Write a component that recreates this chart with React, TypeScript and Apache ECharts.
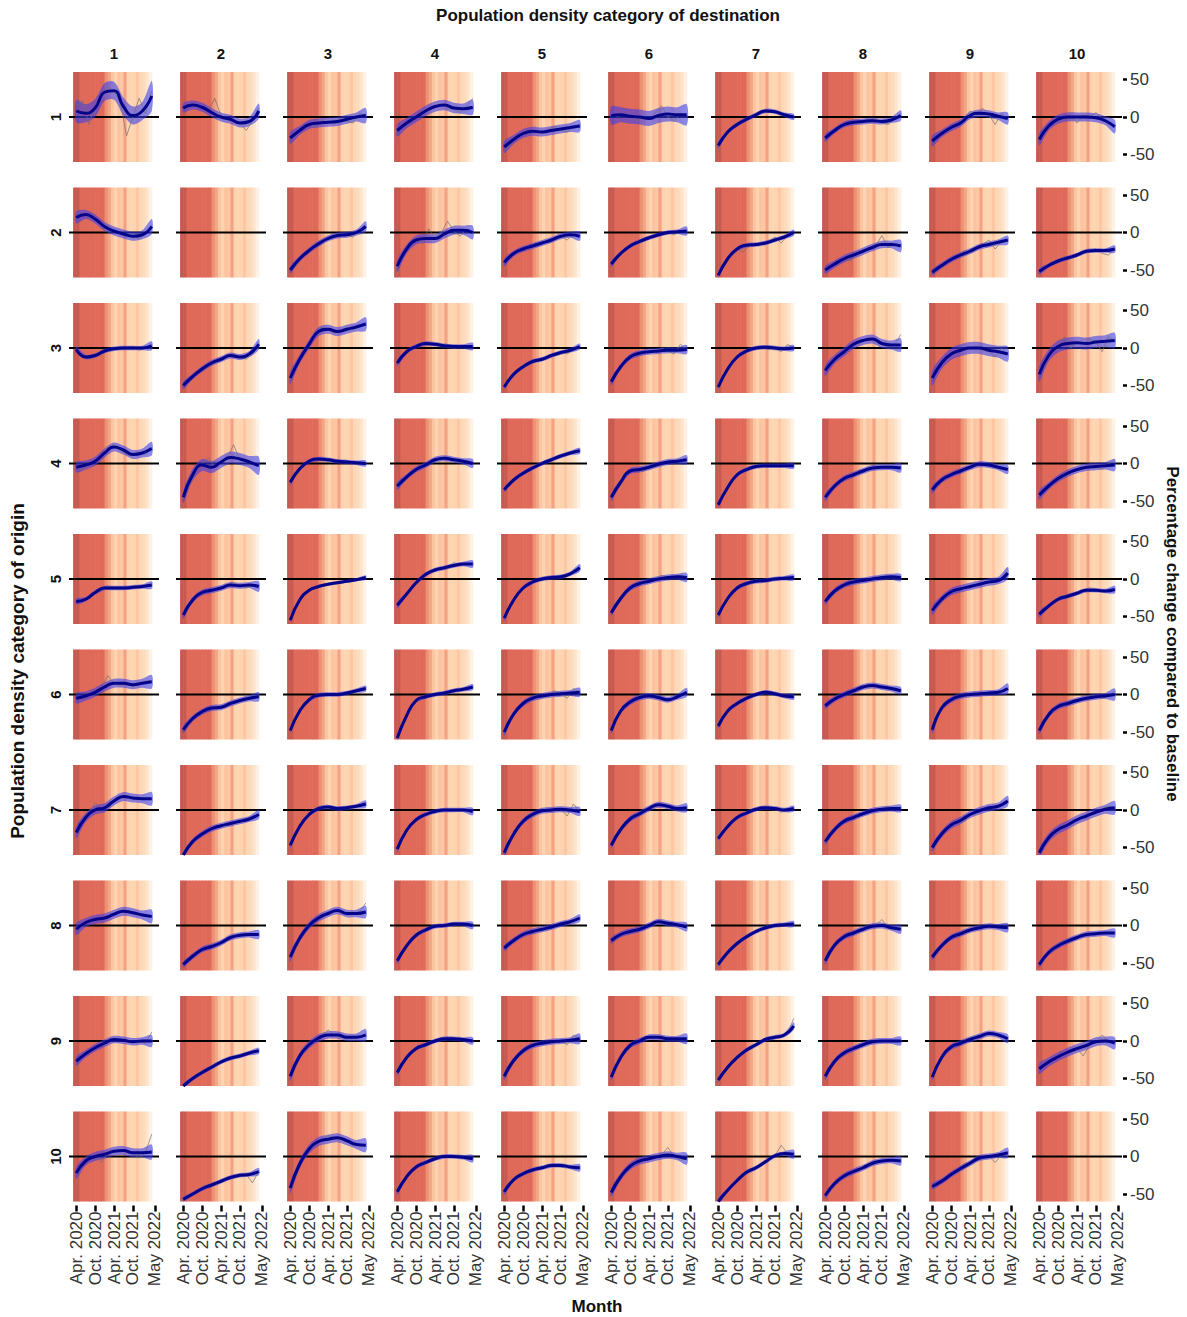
import { useEffect, useRef } from "react";
import * as echarts from "echarts";

const ROW_LABELS = ["1", "2", "3", "4", "5", "6", "7", "8", "9", "10"];
const COL_LABELS = ["1", "2", "3", "4", "5", "6", "7", "8", "9", "10"];
const X_TICK_VALUES = [1, 7, 13, 19, 26];
const X_TICK_LABELS = ["Apr. 2020", "Oct. 2020", "Apr. 2021", "Oct. 2021", "May 2022"];
const Y_TICK_VALUES = [-50, 0, 50];
const SMOOTH_MONTHS = [1, 4, 7, 10, 13, 16, 19, 22, 25];
const RAW_MONTHS = [1, 3, 5, 7, 9, 11, 13, 15, 17, 19, 21, 23, 25];
// one colour per month, Mar 2020 .. Mar 2022
const STRIPE_COLORS = [
  "#c75a50", "#c75a50",
  "#e06a5a", "#e06a5a", "#e06a5a", "#e06a5a", "#e06a5a", "#e06a5a", "#e06a5a", "#e06a5a",
  "#ec9171", "#f2a587", "#fcc5a0", "#fdd4b3", "#fcc49e", "#fcc7a2", "#f4a283",
  "#fdd3b0", "#fdd6b4", "#fdd3b0", "#fcc7a2", "#fdd8b8", "#fddbbd", "#fee4cb", "#fff1e4",
];

const SMOOTH_R1 = [
  [8, 5, 12, 33, 35, 14, 2, 8, 28], [12, 16, 13, 6, 0, -3, -8, -6, 8], [-28, -18, -10, -8, -7, -6, -3, 0, 2],
  [-18, -8, 0, 8, 14, 16, 12, 11, 13], [-40, -30, -22, -19, -20, -18, -16, -14, -12], [2, 3, 1, 0, -2, 2, 4, 3, 3],
  [-38, -20, -10, -3, 3, 8, 7, 3, 0], [-28, -18, -10, -7, -6, -5, -6, -4, 2], [-32, -22, -14, -8, 2, 5, 4, 1, -2],
  [-30, -12, -3, 0, 0, 0, -1, -5, -13],
];
const SMOOTH_R2 = [
  [20, 24, 18, 8, 2, -2, -5, -3, 8], null, [-50, -35, -24, -15, -8, -4, -3, 0, 8],
  [-45, -22, -10, -8, -8, -2, 3, 3, 0], [-40, -28, -22, -18, -14, -10, -5, -3, -5], [-42, -28, -18, -12, -7, -3, 0, 1, 2],
  [-57, -35, -22, -17, -16, -14, -10, -6, 0], [-50, -42, -35, -30, -25, -20, -16, -16, -18], [-53, -44, -36, -30, -25, -19, -16, -13, -10],
  [-52, -44, -38, -34, -30, -25, -24, -24, -22],
];
const SMOOTH_R3 = [
  [-2, -12, -10, -4, -1, 0, 0, 0, 3], [-50, -38, -28, -20, -15, -10, -12, -8, 5], [-40, -15, 5, 22, 25, 22, 25, 28, 32],
  [-20, -5, 2, 6, 5, 3, 2, 2, 2], [-52, -35, -25, -18, -15, -10, -6, -3, 2], [-45, -25, -12, -7, -5, -4, -3, -3, -2],
  [-52, -28, -12, -4, 0, 1, 0, -1, 0], [-30, -15, -5, 5, 10, 12, 6, 4, 4], [-40, -20, -8, -3, 0, 0, -3, -5, -8],
  [-35, -10, 2, 6, 7, 6, 8, 9, 10],
];
const SMOOTH_R4 = [
  [-5, -2, 3, 14, 22, 18, 12, 14, 20], [-45, -15, -2, -5, 2, 8, 6, 2, -3], [-25, -7, 3, 6, 5, 3, 2, 1, 0],
  [-30, -18, -8, -2, 5, 7, 5, 3, 0], [-35, -22, -13, -6, 0, 5, 10, 14, 17], [-45, -25, -10, -8, -5, -1, 2, 3, 5],
  [-55, -32, -15, -8, -4, -3, -3, -3, -3], [-45, -30, -20, -15, -10, -6, -5, -5, -6], [-35, -22, -15, -10, -5, -1, -2, -5, -8],
  [-42, -30, -20, -13, -8, -5, -4, -3, -2],
];
const SMOOTH_R5 = [
  [-30, -27, -18, -12, -12, -12, -11, -10, -8], [-48, -28, -18, -15, -12, -8, -9, -8, -10], [-55, -28, -15, -10, -7, -5, -3, -1, 2],
  [-35, -20, -5, 6, 12, 15, 18, 20, 20], [-52, -28, -12, -4, 0, 2, 3, 7, 15], [-45, -26, -12, -6, -3, 0, 2, 3, 2],
  [-48, -26, -12, -6, -3, -2, 0, 1, 2], [-30, -16, -8, -4, -2, 0, 2, 3, 2], [-42, -27, -17, -13, -10, -7, -4, -2, 8],
  [-47, -36, -27, -23, -19, -15, -15, -16, -14],
];
const SMOOTH_R6 = [
  [-5, -2, 3, 10, 15, 15, 13, 15, 17], [-47, -32, -23, -18, -17, -12, -8, -5, -3], [-48, -22, -7, -1, 0, 0, 2, 5, 8],
  [-58, -28, -8, -3, 0, 2, 5, 7, 10], [-50, -26, -12, -5, -2, 0, 1, 2, 3], [-48, -22, -10, -4, -2, -4, -7, -3, 3],
  [-42, -22, -12, -5, 0, 3, 1, -2, -3], [-15, -6, 0, 5, 10, 12, 10, 8, 5], [-47, -18, -7, -2, 0, 1, 2, 3, 8],
  [-48, -27, -16, -12, -8, -5, -3, -2, 0],
];
const SMOOTH_R7 = [
  [-30, -10, 0, 3, 12, 18, 16, 15, 15], [-60, -42, -32, -25, -21, -18, -15, -12, -6], [-47, -22, -6, 2, 4, 2, 3, 5, 8],
  [-52, -27, -13, -6, -2, 0, 0, 0, -2], [-57, -32, -15, -6, -1, 0, 1, 0, -2], [-47, -26, -12, -5, 2, 7, 5, 2, 3],
  [-38, -22, -10, -4, 1, 3, 2, 0, 2], [-42, -26, -15, -10, -5, -1, 1, 2, 2], [-50, -32, -20, -14, -6, -1, 3, 5, 12],
  [-57, -37, -26, -20, -13, -8, -3, 1, 3],
];
const SMOOTH_R8 = [
  [-5, 4, 8, 10, 15, 19, 17, 14, 12], [-52, -41, -32, -28, -23, -16, -13, -12, -12], [-42, -17, 0, 10, 16, 20, 16, 16, 18],
  [-47, -27, -13, -6, -1, 0, 2, 2, 0], [-30, -20, -12, -8, -5, -2, 2, 5, 10], [-20, -12, -8, -5, 0, 5, 3, 1, -2],
  [-52, -36, -24, -15, -8, -3, 0, 1, 2], [-47, -26, -15, -10, -5, -1, 0, -3, -5], [-42, -27, -16, -11, -6, -3, -1, -2, -3],
  [-52, -36, -27, -21, -16, -12, -11, -10, -10],
];
const SMOOTH_R9 = [
  [-27, -17, -9, -3, 2, 1, -1, 0, 0], [-60, -50, -42, -35, -28, -23, -20, -16, -13], [-47, -20, -5, 4, 8, 8, 5, 5, 8],
  [-42, -22, -10, -5, 0, 3, 3, 2, 0], [-47, -26, -13, -6, -3, -1, 0, 1, 3], [-48, -22, -6, 0, 5, 5, 3, 3, 3],
  [-52, -35, -22, -12, -5, 2, 5, 8, 20], [-47, -27, -16, -10, -5, -1, 0, 0, 0], [-48, -22, -8, -3, 2, 6, 10, 8, 3],
  [-37, -28, -21, -15, -10, -6, -1, 0, -3],
];
const SMOOTH_R10 = [
  [-22, -6, 0, 3, 7, 8, 5, 5, 6], [-57, -50, -43, -38, -33, -28, -25, -24, -20], [-42, -10, 10, 20, 23, 25, 21, 16, 15],
  [-47, -27, -14, -8, -3, 0, 0, -1, -3], [-47, -31, -23, -18, -15, -12, -12, -14, -15], [-48, -27, -13, -6, -3, 0, 2, 0, -3],
  [-60, -45, -32, -21, -15, -7, 1, 4, 3], [-52, -36, -26, -20, -15, -9, -6, -5, -6], [-40, -33, -24, -16, -9, -2, 0, 2, 5],
  null,
];

// confidence band half widths: [start, middle, end]
const BAND_R1 = [[15, 12, 20], [6, 6, 10], [8, 6, 10], [8, 7, 10], [8, 6, 8], [12, 10, 14], [4, 3, 4], [5, 4, 7], [7, 5, 8], [8, 6, 9]];
const BAND_R2 = [[8, 6, 10], null, [5, 4, 7], [8, 6, 9], [5, 4, 6], [4, 3, 6], [3, 3, 4], [5, 5, 8], [4, 4, 6], [4, 3, 5]];
const BAND_R3 = [[4, 3, 6], [5, 4, 7], [8, 6, 9], [4, 3, 5], [3, 3, 4], [5, 4, 6], [3, 3, 4], [7, 6, 9], [10, 8, 10], [10, 8, 10]];
const BAND_R4 = [[7, 6, 9], [8, 8, 12], [4, 3, 4], [5, 4, 6], [3, 3, 4], [5, 4, 6], [3, 3, 4], [5, 4, 6], [5, 4, 6], [6, 5, 8]];
const BAND_R5 = [[4, 3, 5], [5, 4, 7], [2, 2, 3], [4, 3, 5], [4, 3, 5], [4, 4, 6], [3, 3, 4], [4, 4, 5], [6, 5, 8], [4, 3, 5]];
const BAND_R6 = [[7, 6, 9], [5, 4, 6], [3, 3, 4], [3, 3, 4], [5, 4, 6], [4, 4, 6], [3, 3, 4], [4, 4, 5], [5, 4, 7], [5, 4, 8]];
const BAND_R7 = [[8, 6, 9], [4, 4, 6], [4, 3, 5], [4, 3, 5], [5, 4, 6], [4, 4, 6], [3, 3, 4], [4, 4, 5], [5, 5, 7], [6, 6, 9]];
const BAND_R8 = [[8, 6, 9], [4, 4, 6], [6, 5, 8], [4, 3, 5], [4, 4, 5], [4, 4, 6], [3, 3, 4], [5, 4, 6], [4, 4, 6], [4, 4, 6]];
const BAND_R9 = [[6, 5, 8], [3, 3, 4], [6, 5, 8], [4, 3, 5], [5, 4, 7], [5, 4, 7], [3, 3, 5], [5, 4, 6], [4, 4, 6], [7, 6, 8]];
const BAND_R10 = [[8, 6, 10], [3, 3, 5], [7, 6, 9], [4, 3, 5], [4, 3, 5], [6, 5, 8], [4, 3, 6], [4, 4, 6], [4, 4, 7], null];

const RAW_R1 = [
  [15, 22, -10, 15, 30, 40, 35, 20, -25, 0, 25, 5, 35], [12, 16, 17, 12, 8, 25, 2, -2, -4, -8, -18, -5, 12],
  [-30, -22, -15, -10, -14, -5, -7, -8, -2, -6, -8, 5, 2], [-18, -12, -5, 2, 8, 12, 14, 18, 12, 10, 6, 14, 25],
  [-45, -35, -25, -22, -20, -18, -22, -18, -12, -18, -20, -12, -10], [5, 0, 5, 2, -5, 0, -3, 5, 15, 0, -5, 5, 2],
  [-38, -25, -15, -10, -5, 0, 3, 6, 10, 6, 3, 2, 0], [-28, -22, -15, -10, -9, -6, -6, -4, -2, -8, -10, -2, 5],
  [-32, -26, -20, -14, -8, -5, 8, 3, 12, 3, -10, 5, -3], [-30, -18, -8, -2, -3, 2, -8, 3, 0, 6, -2, -10, -12],
];
const RAW_R2 = [
  [22, 25, 22, 18, 10, 8, 2, 0, -2, -5, -8, -2, 10], null,
  [-52, -42, -30, -24, -20, -12, -8, -6, -2, -4, -6, 2, 10], [-45, -30, -15, -8, -15, 5, -8, 0, 15, 2, -5, 5, 0],
  [-40, -32, -26, -22, -20, -16, -14, -12, -6, -5, -10, -2, -5], [-42, -32, -24, -18, -15, -10, -7, -5, -2, 0, -3, 2, 2],
  [-57, -42, -30, -22, -26, -16, -15, -14, -12, -6, -14, -4, 0], [-50, -45, -40, -35, -38, -28, -25, -22, -18, -4, -20, -15, -18],
  [-53, -48, -42, -36, -33, -26, -24, -20, -16, -10, -22, -12, -10], [-52, -47, -42, -36, -32, -34, -30, -25, -24, -22, -28, -30, -22],
];
const RAW_R3 = [
  [-2, -10, -14, -10, -8, -2, 0, -2, 0, 2, -3, 0, 5], [-50, -42, -34, -28, -24, -18, -15, -12, -8, -12, -15, -8, 8],
  [-42, -25, -8, 5, 18, 28, 25, 20, 22, 28, 25, 30, 33], [-20, -10, -3, 2, 5, 6, 5, 3, 2, 0, 2, 3, 2],
  [-52, -42, -32, -25, -22, -16, -15, -12, -10, -5, -8, -2, 2], [-45, -32, -20, -12, -10, -6, -5, -5, 0, -4, -8, 5, -2],
  [-52, -38, -22, -12, -8, -2, 0, 1, -2, 0, -5, 5, 0], [-30, -22, -12, -5, 2, 8, 10, 12, 10, 5, 2, 4, 18],
  [-40, -28, -15, -8, -5, -2, 0, 2, -3, -5, -12, 0, -8], [-35, -20, -5, 2, 15, 0, 8, 5, 12, 8, -5, 15, 10],
];
const RAW_R4 = [
  [-5, -8, -2, 3, 10, 20, 25, 18, 12, 10, 15, 12, 22], [-45, -28, -10, 0, 8, -5, 2, 8, 25, 5, 2, 0, -3],
  [-25, -15, -3, 3, 6, 6, 5, 3, 2, 2, 0, 2, 0], [-30, -22, -15, -8, -4, 2, 5, 8, 8, 5, 3, 2, 0],
  [-35, -28, -20, -13, -8, -2, 0, 4, 8, 10, 14, 16, 18], [-45, -32, -18, -10, -8, -10, -5, -2, 0, 2, 3, 4, 8],
  [-55, -40, -25, -15, -10, -6, -4, -3, -2, -3, -3, -3, -3], [-45, -35, -25, -20, -18, -12, -10, -8, -5, -5, -5, -5, -6],
  [-35, -28, -18, -15, -12, -8, -5, -3, 0, -2, -5, -5, -8], [-42, -35, -25, -20, -18, -12, -8, -5, -4, -5, -8, 0, 5],
];
const RAW_R5 = [
  [-30, -28, -24, -18, -15, -10, -12, -12, -10, -11, -12, -10, -8], [-48, -35, -24, -18, -16, -14, -12, -8, -5, -8, -12, -8, -10],
  [-55, -38, -24, -15, -12, -9, -7, -5, -3, -3, -2, 0, 2], [-35, -25, -15, -5, 2, 10, 12, 14, 15, 22, 18, 20, 20],
  [-52, -35, -20, -12, -6, -2, 0, 2, 2, 3, 4, 8, 15], [-45, -32, -20, -12, -8, -5, -3, 0, 5, 2, 3, 5, 2],
  [-48, -35, -20, -12, -8, -5, -3, -2, -2, 0, 1, 1, 2], [-30, -22, -12, -8, -6, -3, -2, 0, 2, 2, 3, 3, 2],
  [-42, -32, -22, -17, -15, -12, -10, -8, -5, -4, -2, 0, 15], [-47, -40, -32, -27, -25, -22, -19, -16, -12, -15, -18, -15, -14],
];
const RAW_R6 = [
  [-5, -5, 0, 3, 8, 25, 15, 12, 15, 10, 15, 18, 18], [-47, -38, -28, -23, -20, -18, -17, -14, -10, -8, -6, -4, -3],
  [-48, -32, -15, -7, -3, 0, 0, 0, 1, 2, 3, 5, 8], [-58, -40, -20, -8, -4, -2, 0, 1, 3, 5, 6, 8, 10],
  [-50, -35, -20, -12, -8, -3, -2, 0, 5, 1, -5, 8, 3], [-48, -32, -18, -10, -6, -3, -2, -4, -5, -7, -5, -2, 3],
  [-42, -30, -18, -12, -8, -3, 0, 2, 4, 1, -2, -2, -3], [-15, -10, -3, 0, 3, 8, 10, 12, 12, 10, 8, 7, 5],
  [-47, -28, -12, -7, -5, -2, 0, 1, 2, 2, 3, 5, 8], [-48, -35, -22, -16, -14, -10, -8, -5, -3, -3, -5, -2, 5],
];
const RAW_R7 = [
  [-30, -15, -5, 10, 0, 5, 12, 18, 20, 16, 14, 15, 15], [-60, -50, -40, -32, -28, -22, -21, -20, -18, -15, -14, -10, -6],
  [-47, -32, -15, -6, 0, 3, 4, 3, 2, 3, 4, 5, 8], [-52, -37, -22, -13, -8, -4, -2, 0, 0, 0, 0, 0, -2],
  [-57, -42, -25, -15, -8, -3, -1, 0, 3, 1, -8, 8, -2], [-47, -35, -20, -12, -8, -2, 2, 5, 8, 5, 2, 2, 3],
  [-38, -28, -16, -10, -6, -2, 1, 2, 4, 2, -3, 0, 2], [-42, -32, -20, -15, -12, -8, -5, -2, 0, 1, 5, 2, 2],
  [-50, -38, -28, -20, -16, -15, -6, -3, 0, 3, 4, 6, 14], [-57, -45, -32, -26, -22, -18, -13, -10, -5, -3, 2, 5, 3],
];
const RAW_R8 = [
  [-5, 0, 6, 8, 10, 12, 15, 20, 20, 18, 15, 14, 12], [-52, -45, -38, -32, -30, -26, -23, -18, -15, -13, -12, -12, -12],
  [-42, -28, -10, 0, 8, 12, 16, 20, 20, 16, 15, 18, 30], [-47, -35, -20, -13, -8, -3, -1, 0, 1, 2, 2, 2, 0],
  [-30, -25, -16, -12, -10, -7, -5, -3, -1, 2, 4, 6, 10], [-20, -15, -10, -8, -6, -3, 0, 3, 5, 3, 1, 0, -2],
  [-52, -42, -30, -24, -18, -12, -8, -5, -2, 0, 1, 2, 2], [-47, -35, -20, -15, -12, -8, -5, -2, 0, 8, -3, -3, -5],
  [-42, -32, -22, -16, -14, -8, -6, -3, -2, -1, -2, -2, -3], [-52, -42, -32, -27, -24, -19, -16, -13, -11, -11, -10, -10, -10],
];
const RAW_R9 = [
  [-27, -20, -14, -9, -5, 0, 2, 1, 0, -1, 0, -3, 12], [-60, -54, -48, -42, -38, -32, -28, -25, -22, -20, -18, -15, -13],
  [-47, -30, -12, -5, 0, 5, 15, 8, 5, 3, 5, 5, 10], [-42, -30, -16, -10, -7, -3, 0, 2, 3, 3, 2, 2, 0],
  [-47, -35, -20, -13, -8, -5, -3, -2, -1, 0, -5, 8, 3], [-48, -32, -15, -6, -2, 2, 5, 5, 4, 3, 3, 3, 3],
  [-52, -42, -30, -22, -15, -10, -5, 0, 3, 5, 6, 10, 30], [-47, -35, -22, -16, -12, -8, -5, -2, -1, 0, 0, 0, 0],
  [-48, -32, -15, -8, -5, 0, 2, 5, 8, 10, 9, 6, 3], [-37, -32, -26, -21, -18, -14, -10, -20, -5, -1, 8, 0, -3],
];
const RAW_R10 = [
  [-22, -12, -3, 0, -8, 5, 8, 8, 6, 5, -2, 5, 30], [-57, -52, -46, -43, -40, -35, -32, -30, -27, -25, -24, -35, -20],
  [-42, -25, 0, 10, 15, 22, 28, 25, 22, 20, 15, 16, 15], [-47, -35, -22, -14, -10, -6, -3, -1, 0, 0, -1, -1, -3],
  [-47, -38, -28, -23, -20, -17, -15, -13, -12, -12, -13, -14, -15], [-48, -35, -20, -13, -8, -5, -3, 0, 2, 12, 0, -5, -3],
  [-60, -50, -40, -32, -25, -18, -15, -10, -5, 1, 15, 4, 3], [-52, -42, -32, -26, -22, -18, -15, -12, -9, -6, -5, -5, -6],
  [-40, -36, -30, -24, -20, -10, -9, -5, -2, 0, -8, 2, 5], null,
];

const SMOOTH = [SMOOTH_R1, SMOOTH_R2, SMOOTH_R3, SMOOTH_R4, SMOOTH_R5, SMOOTH_R6, SMOOTH_R7, SMOOTH_R8, SMOOTH_R9, SMOOTH_R10];
const BAND = [BAND_R1, BAND_R2, BAND_R3, BAND_R4, BAND_R5, BAND_R6, BAND_R7, BAND_R8, BAND_R9, BAND_R10];
const RAW = [RAW_R1, RAW_R2, RAW_R3, RAW_R4, RAW_R5, RAW_R6, RAW_R7, RAW_R8, RAW_R9, RAW_R10];

// layout
const W = 1187;
const H = 1317;
const PANEL_LEFT0 = 69;
const COL_STEP = 107;
const PANEL_W = 90;
const PANEL_TOP0 = 72;
const ROW_STEP = 115.5;
const PANEL_H = 90;
const X_MIN = -1.3;
const X_MAX = 27.3;
const Y_MIN = -60;
const Y_MAX = 60;
const FONT = "'Liberation Sans', Arial, Helvetica, sans-serif";
const BAND_FILL = "rgba(55,60,240,0.58)";

function buildOption() {
  const grid: any[] = [];
  const xAxis: any[] = [];
  const yAxis: any[] = [];
  const series: any[] = [];
  const graphic: any[] = [];

  for (let r = 0; r < 10; r++) {
    for (let c = 0; c < 10; c++) {
      const i = r * 10 + c;
      const isBottom = r === 9;
      const isRight = c === 9;
      grid.push({
        left: PANEL_LEFT0 + c * COL_STEP,
        top: PANEL_TOP0 + r * ROW_STEP,
        width: PANEL_W,
        height: PANEL_H,
        containLabel: false,
      });
      xAxis.push({
        gridIndex: i,
        type: "value",
        min: X_MIN,
        max: X_MAX,
        position: "bottom",
        offset: 4,
        axisLine: { show: false, onZero: false },
        splitLine: { show: false },
        axisTick: {
          show: isBottom,
          customValues: X_TICK_VALUES,
          length: 6,
          lineStyle: { color: "#000", width: 2.5 },
        },
        axisLabel: {
          show: isBottom,
          customValues: X_TICK_VALUES,
          rotate: 90,
          fontSize: 17,
          fontFamily: FONT,
          color: "#333",
          margin: 6,
          formatter: (v: number) => X_TICK_LABELS[X_TICK_VALUES.indexOf(v)] ?? "",
        },
      });
      yAxis.push({
        gridIndex: i,
        type: "value",
        min: Y_MIN,
        max: Y_MAX,
        position: "right",
        offset: 1,
        axisLine: { show: false, onZero: false },
        splitLine: { show: false },
        axisTick: {
          show: isRight,
          customValues: Y_TICK_VALUES,
          length: 4,
          lineStyle: { color: "#000", width: 2.5 },
        },
        axisLabel: {
          show: isRight,
          customValues: Y_TICK_VALUES,
          fontSize: 17,
          fontFamily: FONT,
          color: "#333",
          margin: 7,
        },
      });

      // background stripes (monthly)
      series.push({
        type: "custom",
        xAxisIndex: i,
        yAxisIndex: i,
        silent: true,
        z: 1,
        encode: { x: [0, 1], y: 2 },
        data: STRIPE_COLORS.map((_, m) => [m, m + 1, 0]),
        renderItem: (params: any, api: any) => {
          const a = api.coord([api.value(0), 0]);
          const b = api.coord([api.value(1), 0]);
          const cs = params.coordSys;
          return {
            type: "rect",
            shape: { x: a[0], y: cs.y, width: b[0] - a[0] + 0.6, height: cs.height },
            style: { fill: STRIPE_COLORS[params.dataIndex] },
          };
        },
      });
      // zero reference line across the panel
      series.push({
        type: "line",
        xAxisIndex: i,
        yAxisIndex: i,
        silent: true,
        z: 2,
        symbol: "none",
        data: [[X_MIN, 0], [X_MAX, 0]],
        lineStyle: { color: "#000", width: 2 },
      });

      const s = SMOOTH[r][c];
      const bw = BAND[r][c];
      const raw = RAW[r][c];
      if (!s || !bw || !raw) continue;
      const halfW = SMOOTH_MONTHS.map((_, k) => (k === 0 ? bw[0] : k === SMOOTH_MONTHS.length - 1 ? bw[2] : bw[1]));

      // confidence band as a smoothed polygon
      series.push({
        type: "custom",
        xAxisIndex: i,
        yAxisIndex: i,
        silent: true,
        clip: true,
        z: 3,
        encode: { x: 0, y: 1 },
        data: SMOOTH_MONTHS.map((m, k) => [m, s[k]]),
        renderItem: (params: any, api: any) => {
          if (params.dataIndex !== 0) return null;
          const up = SMOOTH_MONTHS.map((m, k) => api.coord([m, s[k] + halfW[k]]));
          const lo = SMOOTH_MONTHS.map((m, k) => api.coord([m, s[k] - halfW[k]])).reverse();
          return {
            type: "polygon",
            shape: { points: up.concat(lo), smooth: 0.3 },
            style: { fill: BAND_FILL },
          };
        },
      });
      series.push({
        type: "line",
        xAxisIndex: i,
        yAxisIndex: i,
        silent: true,
        z: 4,
        symbol: "none",
        data: RAW_MONTHS.map((m, k) => [m, raw[k]]),
        lineStyle: { color: "#6e6e6e", width: 0.9, opacity: 0.75 },
      });
      series.push({
        type: "line",
        xAxisIndex: i,
        yAxisIndex: i,
        silent: true,
        z: 5,
        symbol: "none",
        smooth: true,
        data: SMOOTH_MONTHS.map((m, k) => [m, s[k]]),
        lineStyle: { color: "#05058a", width: 3 },
      });
    }
  }

  const textStyle = (text: string, size: number, bold: boolean) => ({
    text,
    fontSize: size,
    fontWeight: bold ? "bold" : "normal",
    fontFamily: FONT,
    fill: "#111",
    align: "center",
    verticalAlign: "middle",
  });

  graphic.push({ type: "text", x: 608, y: 15, style: textStyle("Population density category of destination", 17, true) });
  graphic.push({ type: "text", x: 597, y: 1306, style: textStyle("Month", 17, true) });
  graphic.push({ type: "text", x: 17, y: 671, rotation: Math.PI / 2, style: textStyle("Population density category of origin", 19, true) });
  graphic.push({ type: "text", x: 1172, y: 634, rotation: -Math.PI / 2, style: textStyle("Percentage change compared to baseline", 17, true) });
  COL_LABELS.forEach((t, c) => {
    graphic.push({ type: "text", x: PANEL_LEFT0 + PANEL_W / 2 + c * COL_STEP, y: 53, style: textStyle(t, 15, true) });
  });
  ROW_LABELS.forEach((t, r) => {
    graphic.push({
      type: "text",
      x: 55,
      y: PANEL_TOP0 + PANEL_H / 2 + r * ROW_STEP,
      rotation: Math.PI / 2,
      style: textStyle(t, 15, true),
    });
  });

  return {
    animation: false,
    backgroundColor: "#ffffff",
    grid,
    xAxis,
    yAxis,
    series,
    graphic,
  };
}

export default function App() {
  const ref = useRef<HTMLDivElement>(null);
  useEffect(() => {
    if (!ref.current) return;
    const chart = echarts.init(ref.current, undefined, { renderer: "svg", width: W, height: H });
    chart.setOption(buildOption() as any);
    return () => chart.dispose();
  }, []);
  return (
    <div
      ref={ref}
      style={{ position: "absolute", left: 0, top: 0, width: W, height: H, background: "#fff" }}
    />
  );
}
